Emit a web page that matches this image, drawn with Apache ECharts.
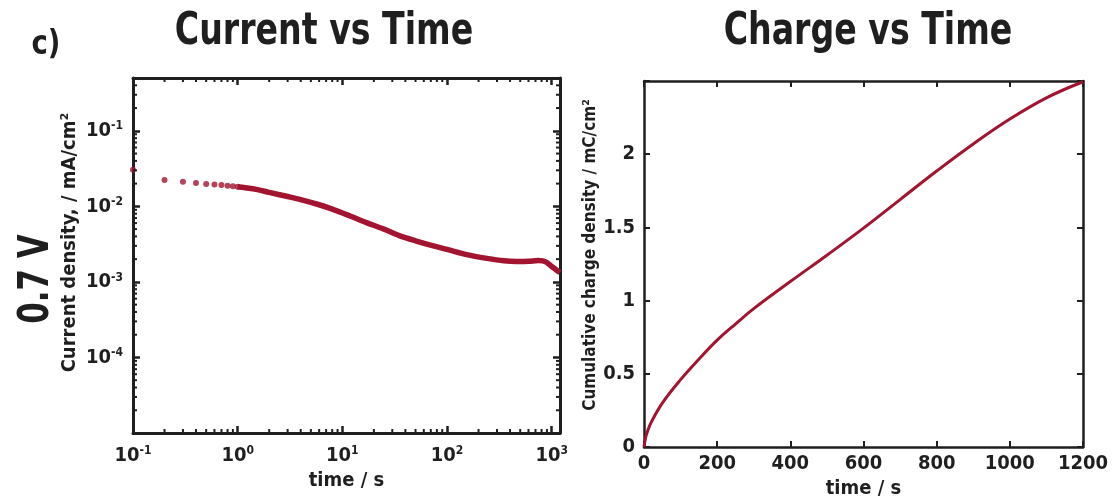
<!DOCTYPE html>
<html>
<head>
<meta charset="utf-8">
<script src="https://cdn.jsdelivr.net/npm/echarts@6/dist/echarts.min.js"></script>
<style>
html,body{margin:0;padding:0;background:#fff;}
#chart{width:1112px;height:498px;}
</style>
</head>
<body>
<div id="chart"></div>
<script>
// ---- data ----
const earlyTime = [0.1, 0.2, 0.3, 0.4, 0.5, 0.6, 0.7, 0.8, 0.9, 1.0];
const earlyCurrent = [0.0304, 0.0224, 0.0211, 0.0203, 0.0198, 0.0194, 0.0191, 0.0188, 0.0185, 0.0182];
const lateTime = [1, 1.5, 2, 3, 4, 6, 8, 12, 17, 25, 35, 50, 74, 100, 154, 240, 350, 462, 600, 745, 820, 890, 1000, 1100, 1200];
const lateCurrent = [0.0182, 0.0168, 0.0153, 0.0135, 0.0123, 0.0105, 0.0092, 0.0074, 0.0061, 0.0050, 0.0041, 0.0035, 0.0030, 0.0027, 0.0023, 0.00205, 0.0019, 0.00186, 0.00187, 0.00192, 0.0019, 0.00182, 0.0016, 0.00145, 0.00133];
const chargeTime = [0, 5, 10, 20, 50, 100, 150, 200, 250, 300, 400, 500, 600, 700, 800, 900, 1000, 1100, 1200];
const chargeValue = [0, 0.07, 0.11, 0.17, 0.30, 0.46, 0.60, 0.73, 0.84, 0.945, 1.13, 1.31, 1.495, 1.69, 1.885, 2.07, 2.24, 2.385, 2.495];
const chargeYTicks = [0, 0.5, 1, 1.5, 2];
const chargeXTicks = [0, 200, 400, 600, 800, 1000, 1200];
const minorMultipliers = [2, 3, 4, 5, 6, 7, 8, 9];
const xDecades = [0.1, 1, 10, 100];
const yDecades = [1e-5, 1e-4, 1e-3, 1e-2, 1e-1];

const titles = ['Current vs Time', 'Charge vs Time'];
const panelLabel = 'c)';
const voltageLabel = '0.7 V';

// ---- helpers ----
const FONT = "'Liberation Sans Narrow','DejaVu Sans Condensed',sans-serif";
const INK = '#1f1f1f';
const RED = '#A2142F';
const X_MIN = 0.1, X_MAX = 1200, Y_MIN = 1e-5, Y_MAX = 0.5;

function minorList(decades, lo, hi) {
  const out = [];
  decades.forEach(d => minorMultipliers.forEach(m => {
    const v = d * m;
    if (v > lo && v < hi) out.push(v);
  }));
  return out;
}
const xMinor = minorList(xDecades, X_MIN, X_MAX);
const yMinor = minorList(yDecades, Y_MIN, Y_MAX);

function powLabel(v) {
  const e = Math.log10(v);
  const r = Math.round(e);
  if (Math.abs(e - r) > 0.01) return '';
  return '10{s|' + r + '}';
}
const supRich = { s: { fontSize: 12, fontWeight: 'bold', fontFamily: FONT, color: INK, verticalAlign: 'top', padding: [0, 0, 9, 0] } };

const chart = echarts.init(document.getElementById('chart'), null, { renderer: 'canvas' });

const lineStyle = { color: INK, width: 3 };
const baseLog = (grid, pos, isX) => ({
  type: 'log', gridIndex: grid, position: pos,
  min: isX ? X_MIN : Y_MIN, max: isX ? X_MAX : Y_MAX,
  axisLine: { show: true, onZero: false, lineStyle: lineStyle },
  axisTick: { show: true, inside: true, length: 7, lineStyle: { color: INK, width: 2.5 } },
  splitLine: { show: false },
});
const linAxis = (pos, min, max, interval) => ({
  type: 'value', gridIndex: 1, position: pos, min: min, max: max, interval: interval,
  axisLine: { show: true, onZero: false, lineStyle: { color: INK, width: 2.5 } },
  axisTick: { show: true, inside: true, length: 6, lineStyle: { color: INK, width: 2 } },
  axisLabel: { show: false },
  splitLine: { show: false }
});

const option = {
  animation: false,
  backgroundColor: '#ffffff',
  grid: [
    { left: 133, top: 78, width: 427, height: 355, outerBoundsMode: 'none', containLabel: false },
    { left: 644, top: 81, width: 439, height: 366, outerBoundsMode: 'none', containLabel: false }
  ],
  graphic: [
    { type: 'text', x: 46, y: 45, scaleX: 0.9, style: { text: panelLabel, font: 'bold 34px ' + FONT, fill: INK, align: 'center', verticalAlign: 'middle' } },
    { type: 'text', x: 324, y: 32, scaleX: 0.82, style: { text: titles[0], font: 'bold 45px ' + FONT, fill: INK, align: 'center', verticalAlign: 'middle' } },
    { type: 'text', x: 868, y: 32, scaleX: 0.82, style: { text: titles[1], font: 'bold 45px ' + FONT, fill: INK, align: 'center', verticalAlign: 'middle' } },
    { type: 'text', x: 37, y: 279, rotation: Math.PI / 2, scaleX: 0.82, style: { text: voltageLabel, font: 'bold 42px ' + FONT, fill: INK, align: 'center', verticalAlign: 'middle' } }
  ],
  xAxis: [
    Object.assign(baseLog(0, 'bottom', true), {
      name: 'time / s', nameLocation: 'middle', nameGap: 38,
      nameTextStyle: { fontFamily: FONT, fontWeight: 'bold', fontSize: 20, color: INK },
      axisLabel: { show: true, margin: 12, formatter: powLabel, fontFamily: FONT, fontWeight: 'bold', fontSize: 20, color: INK, rich: supRich }
    }),
    Object.assign(baseLog(0, 'top', true), { axisLabel: { show: false } }),
    Object.assign(linAxis('bottom', 0, 1200, 200), {
      name: 'time / s', nameLocation: 'middle', nameGap: 31,
      nameTextStyle: { fontFamily: FONT, fontWeight: 'bold', fontSize: 20, color: INK },
      axisLabel: { show: true, margin: 7, fontFamily: FONT, fontWeight: 'bold', fontSize: 20, color: INK,
        formatter: v => (chargeXTicks.indexOf(v) >= 0 ? String(v) : '') }
    }),
    linAxis('top', 0, 1200, 200)
  ],
  yAxis: [
    Object.assign(baseLog(0, 'left', false), {
      name: 'Current density, / mA/cm²', nameLocation: 'middle', nameGap: 53,
      nameTextStyle: { fontFamily: FONT, fontWeight: 'bold', fontSize: 20, color: INK, padding: [0, 0, 0, 26] },
      axisLabel: { show: true, margin: 10, formatter: powLabel, fontFamily: FONT, fontWeight: 'bold', fontSize: 20, color: INK, rich: supRich, showMinLabel: false }
    }),
    Object.assign(baseLog(0, 'right', false), { axisLabel: { show: false } }),
    Object.assign(linAxis('left', 0, 2.5, 0.5), {
      name: 'Cumulative charge density / mC/cm²', nameLocation: 'middle', nameGap: 38,
      nameTextStyle: { fontFamily: FONT, fontWeight: 'bold', fontSize: 17, color: INK, padding: [0, 0, 0, 18] },
      axisLabel: { show: true, margin: 9, fontFamily: FONT, fontWeight: 'bold', fontSize: 20, color: INK,
        formatter: v => (chargeYTicks.indexOf(v) >= 0 ? String(v) : '') }
    }),
    linAxis('right', 0, 2.5, 0.5)
  ],
  series: [
    {
      type: 'custom', xAxisIndex: 0, yAxisIndex: 0, silent: true, z: 5,
      data: xMinor.map(v => [v, 1e-3]),
      renderItem: (params, api) => {
        const cs = params.coordSys;
        const x = api.coord([api.value(0), 1e-3])[0];
        const st = { stroke: INK, lineWidth: 2 };
        return { type: 'group', children: [
          { type: 'line', shape: { x1: x, y1: cs.y + cs.height, x2: x, y2: cs.y + cs.height - 4 }, style: st },
          { type: 'line', shape: { x1: x, y1: cs.y, x2: x, y2: cs.y + 4 }, style: st }
        ] };
      }
    },
    {
      type: 'custom', xAxisIndex: 0, yAxisIndex: 0, silent: true, z: 5,
      data: yMinor.map(v => [1, v]),
      renderItem: (params, api) => {
        const cs = params.coordSys;
        const y = api.coord([1, api.value(1)])[1];
        const st = { stroke: INK, lineWidth: 2 };
        return { type: 'group', children: [
          { type: 'line', shape: { x1: cs.x, y1: y, x2: cs.x + 4, y2: y }, style: st },
          { type: 'line', shape: { x1: cs.x + cs.width, y1: y, x2: cs.x + cs.width - 4, y2: y }, style: st }
        ] };
      }
    },
    {
      type: 'scatter', xAxisIndex: 0, yAxisIndex: 0, symbolSize: 6, silent: true,
      itemStyle: { color: RED },
      data: earlyTime.map((t, i) => [t, earlyCurrent[i]])
    },
    {
      type: 'line', xAxisIndex: 0, yAxisIndex: 0, smooth: 0.3, showSymbol: false, silent: true,
      lineStyle: { color: RED, width: 5.5 },
      data: lateTime.map((t, i) => [t, lateCurrent[i]])
    },
    {
      type: 'line', xAxisIndex: 2, yAxisIndex: 2, smooth: 0.4, showSymbol: false, silent: true,
      lineStyle: { color: RED, width: 3 },
      data: chargeTime.map((t, i) => [t, chargeValue[i]])
    }
  ]
};
chart.setOption(option);
</script>
</body>
</html>
